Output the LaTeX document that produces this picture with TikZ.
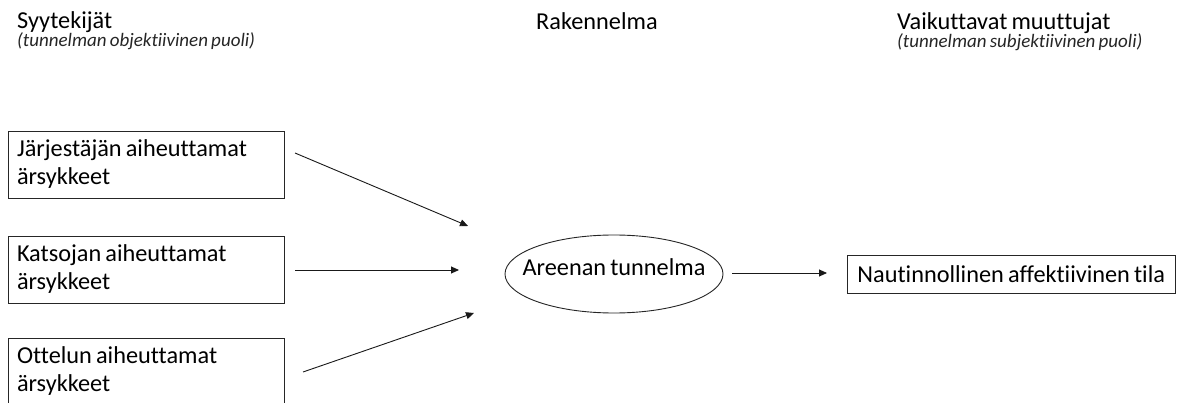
\documentclass[tikz,border=0pt]{standalone}
\usepackage{fontspec}
\setmainfont{Carlito}[Ligatures={NoCommon}, WordSpace=0.75]
\usetikzlibrary{shapes.geometric,arrows.meta}
\newcommand\normsp{\spaceskip=0pt\xspaceskip=0pt\relax}
\tikzset{
  every picture/.style={x=1pt,y=-1pt},
  mainfont/.style={font=\fontsize{24.3}{28}\selectfont},
  subfont/.style={font=\fontsize{19}{21}\selectfont\itshape},
  stimbox/.style={draw=black!85, line width=0.9pt, mainfont, align=left,
    text width=258pt, minimum width=276pt, minimum height=67pt, inner xsep=9pt, inner ysep=0pt},
  outbox/.style={draw=black!85, line width=0.9pt, mainfont, anchor=base west,
    text height=22pt, text depth=4pt, inner xsep=10pt, inner ysep=6pt},
  hubnode/.style={draw=black!85, line width=0.9pt, ellipse, mainfont,
    minimum width=218pt, minimum height=78pt, inner sep=0pt, text height=15pt, text depth=13pt},
  heading/.style={mainfont, anchor=base west, inner sep=0pt},
  subheading/.style={subfont, anchor=base west, inner sep=0pt, text=black!85},
  flow/.style={draw=black!90, line width=0.9pt, -{Triangle[length=8pt,width=7pt]}}
}
\begin{document}
\begin{tikzpicture}
\useasboundingbox (0,0) rectangle (1177,403);
\fill[white] (0,0) rectangle (1177,403);

% headings
\node[heading] (h1) at (17,29) {Syytekijät};
\node[subheading] (s1) at (17,47) {(tunnelman objektiivinen puoli)};
\node[heading] (h2) at (536,30) {Rakennelma};
\node[heading] (h3) at (897,30) {Vaikuttavat muuttujat};
\node[subheading] (s3) at (897,48) {(tunnelman subjektiivinen puoli)};

% boxes
\node[stimbox] (b1) at (146,164.5) {\normsp\strut Järjestäjän aiheuttamat\\ärsykkeet\strut};
\node[stimbox] (b2) at (146,270) {\normsp\strut Katsojan aiheuttamat\\ärsykkeet\strut};
\node[stimbox] (b3) at (146,371.5) {\normsp\strut Ottelun aiheuttamat\\ärsykkeet\strut};

\node[hubnode] (hub) at (614,274) {\makebox[0pt]{Areenan tunnelma}};

\node[outbox] (out) at (847,283) {Nautinnollinen affektiivinen tila\hspace{20pt}};

% arrow end points
\coordinate (a1s) at (295,153);
\coordinate (a1e) at (468,226);
\coordinate (a2s) at (295,270);
\coordinate (a2e) at (459,270);
\coordinate (a3s) at (303,372);
\coordinate (a3e) at (474,313);
\coordinate (a4s) at (732,273);
\coordinate (a4e) at (827,273);

\draw[flow] (a1s) -- (a1e);
\draw[flow] (a2s) -- (a2e);
\draw[flow] (a3s) -- (a3e);
\draw[flow] (a4s) -- (a4e);
\end{tikzpicture}
\end{document}
